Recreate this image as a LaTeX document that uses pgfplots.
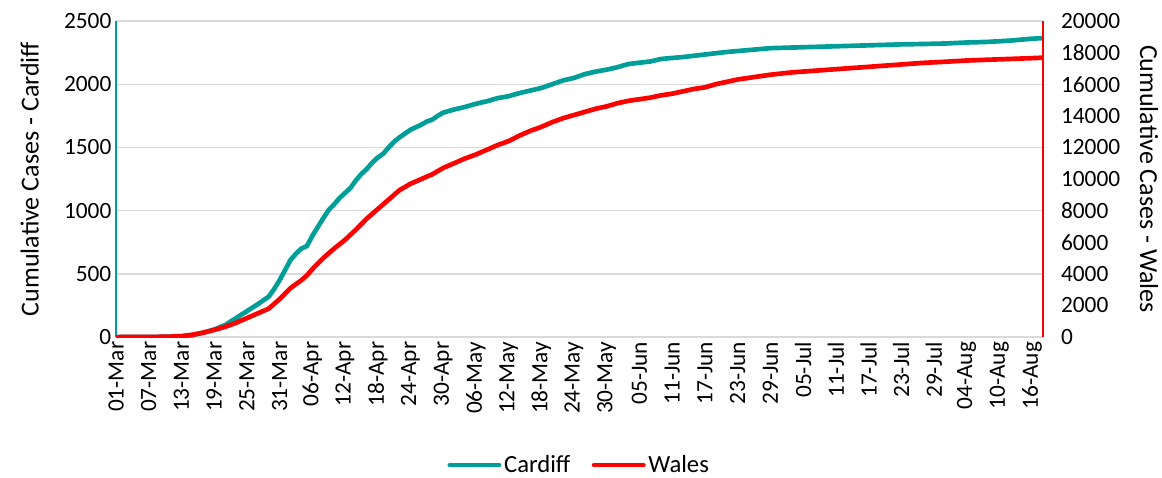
\documentclass[border=0pt]{standalone}
\usepackage{fontspec}
\setmainfont{Carlito}
\usepackage{pgfplots}
\usepackage{pgfplotstable}
\pgfplotsset{compat=1.18}
\definecolor{cteal}{HTML}{009E99}
\definecolor{gridgray}{HTML}{D9D9D9}

% day 0 = 01-Mar
\pgfplotstableread{
day cases
0 0
6 1
10 3
12 6
14 15
16 35
18 60
20 95
22 150
24 205
26 260
28 320
29 380
30 450
31 530
32 610
33 660
34 700
35 720
36 800
37 870
38 940
39 1005
40 1050
41 1100
42 1140
43 1180
44 1240
45 1290
46 1330
47 1380
48 1420
49 1450
50 1500
51 1545
52 1580
53 1610
54 1640
55 1660
56 1680
57 1705
58 1720
59 1750
60 1775
62 1800
64 1820
66 1845
68 1865
70 1890
72 1905
74 1930
76 1950
78 1970
80 2000
82 2030
84 2050
86 2080
88 2100
90 2115
92 2135
94 2160
96 2170
98 2180
100 2200
104 2215
108 2235
112 2255
116 2270
120 2285
124 2290
128 2295
132 2300
136 2305
140 2310
144 2315
148 2318
152 2322
156 2330
160 2335
164 2345
168 2360
170 2365
}\cardiff

\pgfplotstableread{
day cases
0 0
6 5
10 30
12 60
14 150
16 280
18 450
20 650
22 900
24 1200
26 1500
28 1800
30 2400
32 3100
34 3600
35 3900
36 4300
38 5000
40 5600
42 6150
44 6800
46 7500
48 8100
50 8700
52 9300
54 9700
56 10000
58 10300
60 10700
62 11000
64 11300
66 11550
68 11850
70 12150
72 12400
74 12750
76 13050
78 13300
80 13600
82 13850
84 14050
86 14250
88 14450
90 14600
92 14800
94 14950
96 15050
98 15150
100 15300
102 15400
104 15550
106 15700
108 15800
110 16000
112 16150
114 16300
116 16400
118 16500
120 16600
124 16750
128 16850
132 16950
136 17050
140 17150
144 17250
148 17350
152 17420
156 17500
160 17550
164 17600
168 17650
170 17680
}\wales

\begin{document}
\begin{tikzpicture}
\pgfplotsset{
  base/.style={
    scale only axis, width=695pt, height=237pt,
    xmin=0, xmax=170,
    scaled y ticks=false,
    /pgf/number format/assume math mode=true,
    /pgf/number format/1000 sep={},
    tick label style={font=\fontsize{17.5}{20}\selectfont},
    label style={font=\fontsize{19.5}{22}\selectfont},
    major tick length=0pt,
  }
}
\begin{axis}[base, name=ax,
  ymin=0, ymax=2500, ytick={0,500,...,2500},
  axis y line*=left, axis x line*=bottom,
  x axis line style={draw=none},
  y axis line style={cteal, line width=1pt, -},
  ymajorgrids, grid style={gridgray, line width=1pt},
  ylabel={Cumulative Cases - Cardiff},
  ylabel shift=12pt,
  xtick={0,6,...,168},
  xticklabels={01-Mar,07-Mar,13-Mar,19-Mar,25-Mar,31-Mar,06-Apr,12-Apr,18-Apr,24-Apr,30-Apr,06-May,12-May,18-May,24-May,30-May,05-Jun,11-Jun,17-Jun,23-Jun,29-Jun,05-Jul,11-Jul,17-Jul,23-Jul,29-Jul,04-Aug,10-Aug,16-Aug},
  xticklabel style={rotate=90, anchor=east},
  legend style={draw=none, at={(0.5,-0.405)}, anchor=center,
    legend columns=2, font=\fontsize{18.5}{20}\selectfont,
    /tikz/every even column/.append style={column sep=14pt}},
  legend image code/.code={\draw[#1, line width=3.5pt, line cap=round] (0pt,0pt) -- (37pt,0pt);},
]
\addplot[cteal, line width=3.5pt] table[x=day, y=cases] {\cardiff};
\addlegendentry{Cardiff}
\addlegendimage{red, line width=3.5pt}
\addlegendentry{Wales}
\end{axis}
\begin{axis}[base,
  ymin=0, ymax=20000, ytick={0,2000,...,20000},
  axis y line*=right, axis x line=none,
  y axis line style={red, line width=1pt, -},
  yticklabel style={xshift=10pt},
  ylabel={Cumulative Cases - Wales},
  ylabel style={rotate=180},
  ylabel shift=8pt,
]
\addplot[red, line width=3.5pt] table[x=day, y=cases] {\wales};
\end{axis}
\pgfresetboundingbox
\path ([xshift=-87pt,yshift=-105pt]ax.south west) rectangle ([xshift=89.25pt,yshift=15.75pt]ax.north east);
\end{tikzpicture}
\end{document}
